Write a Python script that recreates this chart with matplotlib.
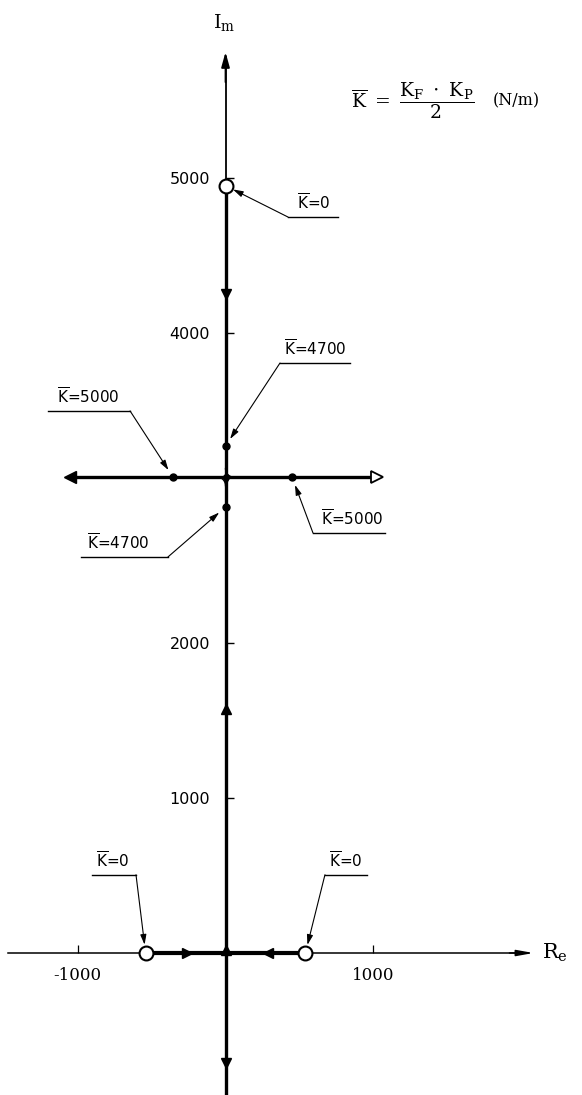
import numpy as np
import matplotlib.pyplot as plt

# Open-loop poles (K = 0)
pole_re = [-540, 540]
pole_im = [4950]
# Breakaway point on the imaginary axis
breakaway_im = 3070
# Roots at K = 4700 (on the imaginary axis) and K = 5000 (on the branch)
k4700_im = [3271, 2877]
k5000_re = [-355, 450]
# Extent of the branch that leaves the imaginary axis
branch_re = [-1050, 1024]

# Direction arrows along the loci
dir_re = [-260, 287, 0, 0, 0, 4]
dir_im = [0, 0, 20, 1574, -710, 4250]
dir_mk = ['>', '<', '^', '^', 'v', 'v']

xticks = [-1000, 1000]
yticks = [1000, 2000, 4000, 5000]

XLIM = (-1524, 2409)
YLIM = (-916, 6148)

fig = plt.figure(figsize=(5.82, 10.95), dpi=100)
ax = fig.add_axes([0, 0, 1, 1])
ax.set_xlim(*XLIM)
ax.set_ylim(*YLIM)

# axes through the origin
for side in ('top', 'right'):
    ax.spines[side].set_visible(False)
ax.spines['left'].set_position(('data', 0))
ax.spines['bottom'].set_position(('data', 0))
ax.spines['left'].set_bounds(YLIM[0], 5780)
ax.spines['bottom'].set_bounds(-1470, 2040)
ax.spines['left'].set_linewidth(1.3)
ax.spines['bottom'].set_linewidth(1.1)

ax.set_xticks(xticks)
ax.set_yticks(yticks)
ax.tick_params(axis='y', direction='in', length=6, width=1.0, pad=11,
               labelsize=11.5)
ax.tick_params(axis='x', direction='in', length=6, width=0.9, pad=10,
               labelsize=12)
ax.set_xticklabels([f'{t:d}' for t in xticks], family='DejaVu Serif')
ax.set_yticklabels([f'{t:d}' for t in yticks])
ax.set_facecolor('white')

# arrow heads at the ends of the axes
ax.annotate('', xy=(0, 5830), xytext=(0, 5600),
            arrowprops=dict(arrowstyle='-|>,head_length=0.9,head_width=0.25',
                            lw=1.3, color='black'))
ax.annotate('', xy=(2100, 0), xytext=(1900, 0),
            arrowprops=dict(arrowstyle='-|>,head_length=1.0,head_width=0.18',
                            lw=1.1, color='black'))

# root loci
LW = 2.4
ax.plot([0, 0], [YLIM[0], pole_im[0]], color='black', lw=LW,
        solid_capstyle='butt', zorder=3)
ax.plot(pole_re, [0, 0], color='black', lw=LW + 0.6,
        solid_capstyle='butt', zorder=3)
ax.plot(branch_re, [breakaway_im, breakaway_im], color='black', lw=LW,
        solid_capstyle='butt', zorder=3)

# small fillets where the branches leave the imaginary axis
r_x, r_y = 55, 55
t = np.linspace(np.pi, 1.5 * np.pi, 20)
ax.plot(r_x + r_x * np.cos(t), breakaway_im + r_y + r_y * np.sin(t),
        color='black', lw=1.0, zorder=3)
t = np.linspace(0, 0.5 * np.pi, 20)
ax.plot(-r_x + r_x * np.cos(t), breakaway_im - r_y + r_y * np.sin(t),
        color='black', lw=1.0, zorder=3)

# branch end arrows
ax.plot([branch_re[0]], [breakaway_im], marker='<', ms=8, color='black',
        zorder=4)
ax.plot([branch_re[1]], [breakaway_im], marker='>', ms=8, mfc='white',
        mec='black', mew=1.3, zorder=4)

# direction arrows
for xr, yi, mk in zip(dir_re, dir_im, dir_mk):
    ax.plot([xr], [yi], marker=mk, ms=7, color='black', zorder=4)
ax.plot([0], [breakaway_im - 20], marker='v', ms=5, color='black', zorder=4)

# poles and marked roots
ax.plot(pole_re, [0, 0], 'o', ms=10, mfc='white', mec='black', mew=1.5,
        zorder=5)
ax.plot([0], pole_im, 'o', ms=10, mfc='white', mec='black', mew=1.5,
        zorder=5)
ax.plot([0, 0], k4700_im, 'o', ms=5, color='black', zorder=5)
ax.plot(k5000_re, [breakaway_im, breakaway_im], 'o', ms=5, color='black',
        zorder=5)
ax.plot([0], [breakaway_im], 'o', ms=4, color='black', zorder=5)


def callout(text, tx, line_x, line_y, target, from_right):
    """Label on an underline with a leader arrow to the marked root."""
    ax.text(tx, line_y + 25, text, ha='center', va='bottom', fontsize=11,
            zorder=6)
    ax.plot(line_x, [line_y, line_y], color='black', lw=1.0, zorder=6)
    start = (line_x[1] if from_right else line_x[0], line_y)
    ax.annotate('', xy=target, xytext=start,
                arrowprops=dict(arrowstyle='-|>,head_length=0.6,head_width=0.18',
                                lw=0.8, color='black', shrinkA=0,
                                shrinkB=6),
                zorder=6)


KB = r'$\overline{\mathrm{K}}$'
callout(KB + '=0', 598, [422, 760], 4748, (0, pole_im[0]), False)
callout(KB + '=4700', 605, [368, 841], 3806, (0, k4700_im[0]), False)
callout(KB + '=5000', -929, [-1199, -645], 3497,
        (k5000_re[0], breakaway_im), True)
callout(KB + '=5000', 855, [591, 1078], 2710,
        (k5000_re[1], breakaway_im), False)
callout(KB + '=4700', -726, [-980, -389], 2555, (0, k4700_im[1]), True)
callout(KB + '=0', -760, [-902, -605], 505, (pole_re[0], 0), True)
callout(KB + '=0', 815, [672, 956], 505, (pole_re[1], 0), False)

# axis names
ax.text(-10, 6000, r'$\mathrm{I}_{\mathrm{m}}$', ha='center', va='center',
        fontsize=14, math_fontfamily='dejavuserif')
ax.text(2140, 0, r'$\mathrm{R}_{\mathrm{e}}$', ha='left', va='center',
        fontsize=15, math_fontfamily='dejavuserif')

# gain definition
ax.text(850, 5500,
        r'$\overline{\mathrm{K}}\ =\ \dfrac{\mathrm{K}_{\mathrm{F}}\ \cdot\ \mathrm{K}_{\mathrm{P}}}{2}$',
        ha='left', va='center', fontsize=13.5, math_fontfamily='dejavuserif')
ax.text(1805, 5500, '(N/m)', ha='left', va='center', fontsize=11.5,
        family='DejaVu Serif')

fig.savefig('out.png', dpi=100, facecolor='white')
